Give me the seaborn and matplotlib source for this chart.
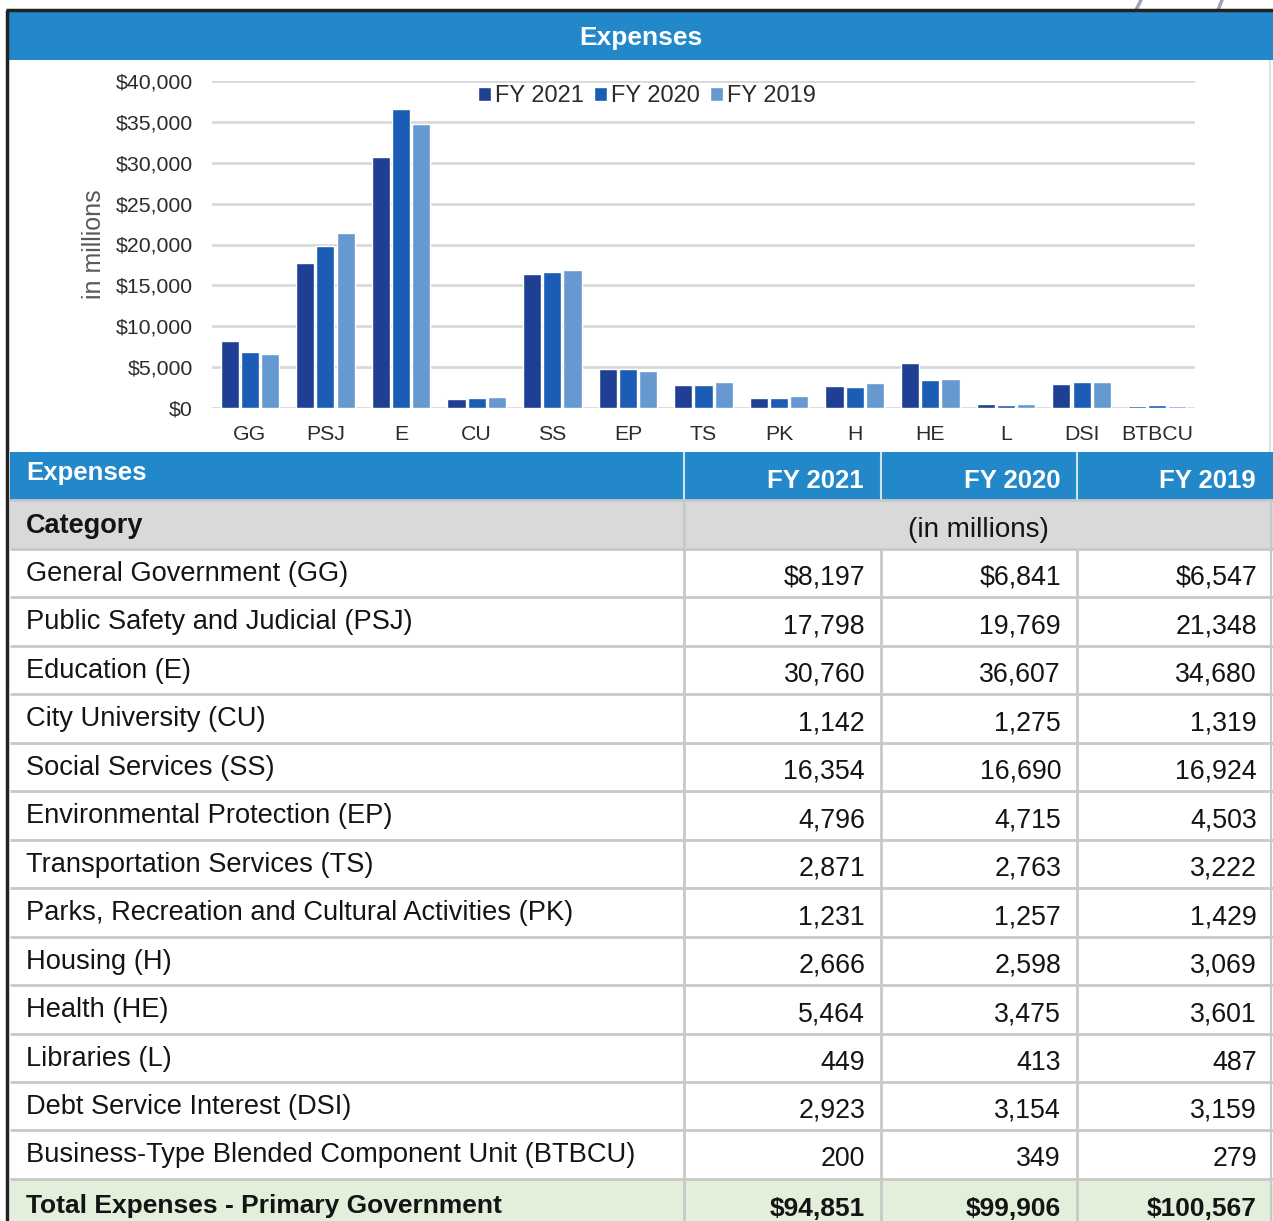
import matplotlib
matplotlib.use('Agg')
import matplotlib.pyplot as plt
import pandas as pd
import seaborn as sns

categories = ['GG', 'PSJ', 'E', 'CU', 'SS', 'EP', 'TS', 'PK', 'H', 'HE', 'L', 'DSI', 'BTBCU']
row_labels = ['General Government (GG)', 'Public Safety and Judicial (PSJ)', 'Education (E)',
              'City University (CU)', 'Social Services (SS)', 'Environmental Protection (EP)',
              'Transportation Services (TS)', 'Parks, Recreation and Cultural Activities (PK)',
              'Housing (H)', 'Health (HE)', 'Libraries (L)', 'Debt Service Interest (DSI)',
              'Business-Type Blended Component Unit (BTBCU)']
years = ['FY 2021', 'FY 2020', 'FY 2019']
fy2021 = [8197, 17798, 30760, 1142, 16354, 4796, 2871, 1231, 2666, 5464, 449, 2923, 200]
fy2020 = [6841, 19769, 36607, 1275, 16690, 4715, 2763, 1257, 2598, 3475, 413, 3154, 349]
fy2019 = [6547, 21348, 34680, 1319, 16924, 4503, 3222, 1429, 3069, 3601, 487, 3159, 279]
totals = [94851, 99906, 100567]
y_ticks = [0, 5000, 10000, 15000, 20000, 25000, 30000, 35000, 40000]

bar_colors = ['#1f3f94', '#1b5db4', '#6699d0']
blue = '#2388ca'
grid_gray = '#d9d9d9'
line_gray = '#c8c8c8'

sns.set_style('white')
plt.rcParams['font.family'] = ['Liberation Sans', 'DejaVu Sans']

W, H = 1273, 1221
fig = plt.figure(figsize=(W / 100, H / 100), dpi=100)

# overlay in pixel coordinates for the banner and the table
ov = fig.add_axes([0, 0, 1, 1])
ov.set_xlim(0, W)
ov.set_ylim(H, 0)
ov.axis('off')

def box(x0, y0, x1, y1, color):
    ov.add_patch(plt.Rectangle((x0, y0), x1 - x0, y1 - y0, facecolor=color, edgecolor='none', zorder=1))

def hline(y, x0, x1, color, lw):
    ov.plot([x0, x1], [y, y], color=color, lw=lw, solid_capstyle='butt', zorder=3)

def vline(x, y0, y1, color, lw):
    ov.plot([x, x], [y0, y1], color=color, lw=lw, solid_capstyle='butt', zorder=3)

# page decoration and frame
ov.plot([1141, 1136], [0, 10], color='#9ea3b8', lw=2.5, zorder=2)
ov.plot([1222, 1218], [0, 10], color='#9ea3b8', lw=2.5, zorder=2)
box(8, 12, W, 60, blue)
ov.text(641, 38, 'Expenses', color='white', fontsize=19, fontweight='bold', ha='center', va='center', zorder=4)
vline(1270, 60, 452, '#e0e0e0', 1.5)

# table
col_x = [10, 684, 881, 1077, W]
row_h = 48.45
body_top = 549
n = len(row_labels)
total_top = body_top + row_h * n
txt = '#141414'

box(10, 452, W, 500, blue)
box(10, 500, W, body_top, '#d9d9d9')
box(10, total_top, W, H, '#e2efda')

ov.text(26, 473, 'Expenses', color='white', fontsize=18.5, fontweight='bold', va='center', zorder=4)
for j, yr in enumerate(years):
    ov.text(col_x[j + 2] - 17, 481, yr, color='white', fontsize=18.5, fontweight='bold',
            ha='right', va='center', zorder=4)
for x in col_x[1:4]:
    vline(x, 452, 500, '#cfe2f3', 1.5)

ov.text(26, 526, 'Category', color=txt, fontsize=19.5, fontweight='bold', va='center', zorder=4)
ov.text((col_x[1] + W) / 2, 530, '(in millions)', color=txt, fontsize=20, ha='center', va='center', zorder=4)

series = [fy2021, fy2020, fy2019]
for i, lab in enumerate(row_labels):
    top = body_top + row_h * i
    ov.text(26, top + 25, lab, color=txt, fontsize=19.6, va='center', zorder=4)
    for j in range(3):
        v = series[j][i]
        s = f'${v:,}' if i == 0 else f'{v:,}'
        ov.text(col_x[j + 2] - 16, top + 29, s, color=txt, fontsize=19.3, ha='right', va='center', zorder=4)

ov.text(26, total_top + 27, 'Total Expenses - Primary Government', color=txt, fontsize=19,
        fontweight='bold', va='center', zorder=4)
for j in range(3):
    ov.text(col_x[j + 2] - 16, total_top + 30, f'${totals[j]:,}', color=txt, fontsize=19,
            fontweight='bold', ha='right', va='center', zorder=4)

for i in range(n + 2):
    hline(500 + (0 if i == 0 else body_top - 500 + row_h * (i - 1)), 10, W, line_gray, 2)
for x in col_x[1:4]:
    vline(x, body_top if x != col_x[1] else 500, H, line_gray, 2)
vline(1271, 500, H, line_gray, 1.5)

# frame
ov.plot([6, W], [10, 10], color='#222222', lw=2.5, zorder=5, solid_capstyle='butt')
vline(7, 10, H, '#222222', 2.5)

# bar chart
rows = []
for j, yr in enumerate(years):
    for c, v in zip(categories, series[j]):
        rows.append({'category': c, 'year': yr, 'value': v})
df = pd.DataFrame(rows)

ax = fig.add_axes([212 / W, 1 - 408 / H, 983 / W, 327 / H])
ax.set_facecolor('none')
sns.barplot(data=df, x='category', y='value', hue='year', palette=bar_colors, saturation=1,
            width=0.8, gap=0.1, ax=ax)
ax.set_ylim(0, 40000)
ax.set_xlim(-0.5, len(categories) - 0.5)
ax.set_yticks(y_ticks)
ax.set_yticklabels([f'${t:,}' for t in y_ticks])
ax.grid(axis='y', color=grid_gray, lw=2)
ax.set_axisbelow(True)
for sp in ax.spines.values():
    sp.set_visible(False)
ax.tick_params(axis='y', length=0, pad=14, labelsize=15.3, labelcolor='#2b2b2b')
ax.tick_params(axis='x', length=0, pad=12, labelsize=15.3, labelcolor='#2b2b2b')
ax.set_xlabel('')
ax.set_ylabel('in millions', fontsize=18, color='#595959')
ax.yaxis.set_label_coords(-0.108, 0.5)
ax.legend(loc='center', bbox_to_anchor=(0.4425, 0.954), ncol=3, frameon=False, fontsize=17,
          handlelength=0.55, handleheight=0.55, handletextpad=0.15, columnspacing=0.45,
          borderaxespad=0, labelcolor='#2b2b2b')

fig.savefig('out.png', dpi=100)
